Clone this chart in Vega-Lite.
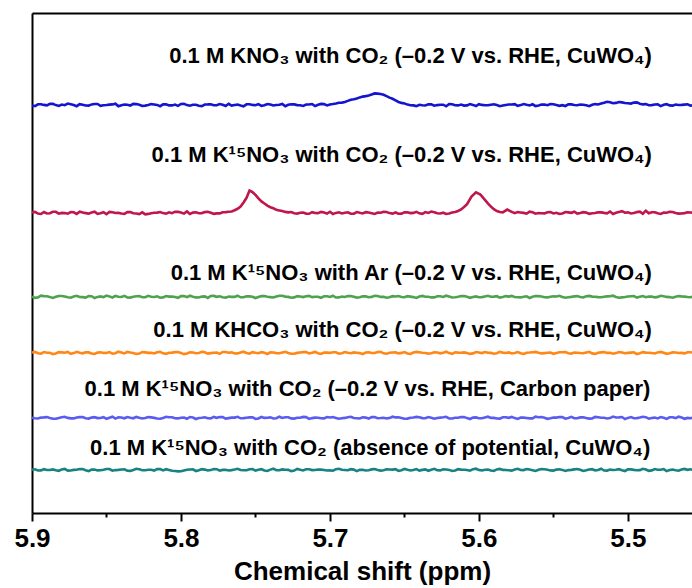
{
  "$schema": "https://vega.github.io/schema/vega-lite/v6.json",
  "width": 660,
  "height": 500,
  "autosize": {"type": "none"},
  "padding": {"left": 32, "top": 13, "right": 0, "bottom": 75},
  "background": "white",
  "config": {"view": {"stroke": null}, "axis": {"grid": false}},
  "datasets": {
    "labels": [
      {"s": "k14", "x": 5.4839, "y": 450, "t": "0.1 M KNO₃ with CO₂ (–0.2 V vs. RHE, CuWO₄)"},
      {"s": "k15", "x": 5.4839, "y": 351, "t": "0.1 M K¹⁵NO₃ with CO₂ (–0.2 V vs. RHE, CuWO₄)"},
      {"s": "ar", "x": 5.4839, "y": 233, "t": "0.1 M K¹⁵NO₃ with Ar (–0.2 V vs. RHE, CuWO₄)"},
      {"s": "khco3", "x": 5.4839, "y": 176, "t": "0.1 M KHCO₃ with CO₂ (–0.2 V vs. RHE, CuWO₄)"},
      {"s": "cp", "x": 5.485, "y": 117, "t": "0.1 M K¹⁵NO₃ with CO₂ (–0.2 V vs. RHE, Carbon paper)"},
      {"s": "ocp", "x": 5.485, "y": 58, "t": "0.1 M K¹⁵NO₃ with CO₂ (absence of potential, CuWO₄)"}
    ],
    "spectra": [
      {"s":"k14","x":5.900,"y":407.6},{"s":"k14","x":5.896,"y":408.7},{"s":"k14","x":5.892,"y":408.1},{"s":"k14","x":5.888,"y":409.2},{"s":"k14","x":5.884,"y":407.9},
      {"s":"k14","x":5.880,"y":408.5},{"s":"k14","x":5.876,"y":409.4},{"s":"k14","x":5.872,"y":408.0},{"s":"k14","x":5.868,"y":408.8},{"s":"k14","x":5.864,"y":407.5},
      {"s":"k14","x":5.860,"y":408.6},{"s":"k14","x":5.856,"y":409.0},{"s":"k14","x":5.852,"y":407.8},{"s":"k14","x":5.848,"y":408.4},{"s":"k14","x":5.844,"y":409.3},
      {"s":"k14","x":5.840,"y":407.7},{"s":"k14","x":5.836,"y":408.2},{"s":"k14","x":5.832,"y":409.1},{"s":"k14","x":5.828,"y":408.3},{"s":"k14","x":5.824,"y":407.4},
      {"s":"k14","x":5.820,"y":408.9},{"s":"k14","x":5.816,"y":408.1},{"s":"k14","x":5.812,"y":408.6},{"s":"k14","x":5.808,"y":407.6},{"s":"k14","x":5.804,"y":408.4},
      {"s":"k14","x":5.800,"y":409.0},{"s":"k14","x":5.796,"y":407.9},{"s":"k14","x":5.792,"y":408.2},{"s":"k14","x":5.788,"y":407.3},{"s":"k14","x":5.784,"y":408.5},
      {"s":"k14","x":5.780,"y":408.8},{"s":"k14","x":5.776,"y":407.8},{"s":"k14","x":5.772,"y":408.3},{"s":"k14","x":5.768,"y":409.2},{"s":"k14","x":5.764,"y":408.0},
      {"s":"k14","x":5.760,"y":407.5},{"s":"k14","x":5.756,"y":408.7},{"s":"k14","x":5.752,"y":408.1},{"s":"k14","x":5.748,"y":408.9},{"s":"k14","x":5.744,"y":407.7},
      {"s":"k14","x":5.740,"y":408.4},{"s":"k14","x":5.736,"y":408.0},{"s":"k14","x":5.732,"y":409.1},{"s":"k14","x":5.728,"y":408.2},{"s":"k14","x":5.724,"y":408.6},
      {"s":"k14","x":5.720,"y":407.8},{"s":"k14","x":5.716,"y":408.5},{"s":"k14","x":5.712,"y":409.0},{"s":"k14","x":5.708,"y":408.3},{"s":"k14","x":5.704,"y":408.9},
      {"s":"k14","x":5.700,"y":408.6},{"s":"k14","x":5.696,"y":409.6},{"s":"k14","x":5.692,"y":410.4},{"s":"k14","x":5.688,"y":412.1},{"s":"k14","x":5.684,"y":413.8},
      {"s":"k14","x":5.680,"y":415.6},{"s":"k14","x":5.676,"y":416.9},{"s":"k14","x":5.672,"y":418.6},{"s":"k14","x":5.668,"y":419.4},{"s":"k14","x":5.664,"y":418.2},
      {"s":"k14","x":5.660,"y":415.4},{"s":"k14","x":5.656,"y":412.6},{"s":"k14","x":5.652,"y":410.1},{"s":"k14","x":5.648,"y":408.4},{"s":"k14","x":5.644,"y":407.6},
      {"s":"k14","x":5.640,"y":408.2},{"s":"k14","x":5.636,"y":407.5},{"s":"k14","x":5.632,"y":408.6},{"s":"k14","x":5.628,"y":407.9},{"s":"k14","x":5.624,"y":408.3},
      {"s":"k14","x":5.620,"y":409.0},{"s":"k14","x":5.616,"y":407.8},{"s":"k14","x":5.612,"y":408.4},{"s":"k14","x":5.608,"y":407.6},{"s":"k14","x":5.604,"y":408.1},
      {"s":"k14","x":5.600,"y":408.8},{"s":"k14","x":5.596,"y":407.7},{"s":"k14","x":5.592,"y":408.3},{"s":"k14","x":5.588,"y":408.0},{"s":"k14","x":5.584,"y":407.4},
      {"s":"k14","x":5.580,"y":408.5},{"s":"k14","x":5.576,"y":408.9},{"s":"k14","x":5.572,"y":407.9},{"s":"k14","x":5.568,"y":408.2},{"s":"k14","x":5.564,"y":408.7},
      {"s":"k14","x":5.560,"y":407.6},{"s":"k14","x":5.556,"y":408.4},{"s":"k14","x":5.552,"y":408.9},{"s":"k14","x":5.548,"y":408.1},{"s":"k14","x":5.544,"y":407.8},
      {"s":"k14","x":5.540,"y":408.6},{"s":"k14","x":5.536,"y":408.0},{"s":"k14","x":5.532,"y":408.4},{"s":"k14","x":5.528,"y":407.7},{"s":"k14","x":5.524,"y":408.2},
      {"s":"k14","x":5.520,"y":408.5},{"s":"k14","x":5.516,"y":410.2},{"s":"k14","x":5.512,"y":410.8},{"s":"k14","x":5.508,"y":410.1},{"s":"k14","x":5.504,"y":410.6},
      {"s":"k14","x":5.500,"y":409.7},{"s":"k14","x":5.496,"y":410.4},{"s":"k14","x":5.492,"y":409.3},{"s":"k14","x":5.488,"y":408.9},{"s":"k14","x":5.484,"y":407.9},
      {"s":"k14","x":5.480,"y":408.6},{"s":"k14","x":5.476,"y":408.2},{"s":"k14","x":5.472,"y":407.6},{"s":"k14","x":5.468,"y":408.5},{"s":"k14","x":5.464,"y":408.1},
      {"s":"k14","x":5.460,"y":408.7},{"s":"k14","x":5.456,"y":408.0},

      {"s":"k14","x":5.898,"y":406.9},{"s":"k14","x":5.894,"y":408.7},{"s":"k14","x":5.890,"y":407.7},{"s":"k14","x":5.886,"y":409.1},{"s":"k14","x":5.882,"y":407.1},
      {"s":"k14","x":5.878,"y":407.8},{"s":"k14","x":5.874,"y":408.8},{"s":"k14","x":5.870,"y":406.8},{"s":"k14","x":5.866,"y":408.3},{"s":"k14","x":5.862,"y":407.4},
      {"s":"k14","x":5.858,"y":409.0},{"s":"k14","x":5.854,"y":407.2},{"s":"k14","x":5.850,"y":408.0},{"s":"k14","x":5.846,"y":408.6},{"s":"k14","x":5.842,"y":406.7},
      {"s":"k14","x":5.838,"y":408.4},{"s":"k14","x":5.834,"y":407.5},{"s":"k14","x":5.830,"y":408.9},{"s":"k14","x":5.826,"y":407.0},{"s":"k14","x":5.822,"y":407.9},
      {"s":"k14","x":5.818,"y":408.5},{"s":"k14","x":5.814,"y":406.8},{"s":"k14","x":5.810,"y":408.8},{"s":"k14","x":5.806,"y":407.6},{"s":"k14","x":5.802,"y":407.1},
      {"s":"k14","x":5.798,"y":409.1},{"s":"k14","x":5.794,"y":407.3},{"s":"k14","x":5.790,"y":408.2},{"s":"k14","x":5.786,"y":406.9},{"s":"k14","x":5.782,"y":408.6},
      {"s":"k14","x":5.778,"y":407.7},{"s":"k14","x":5.774,"y":408.9},{"s":"k14","x":5.770,"y":407.0},{"s":"k14","x":5.766,"y":407.4},{"s":"k14","x":5.762,"y":408.4},
      {"s":"k14","x":5.758,"y":406.7},{"s":"k14","x":5.754,"y":408.7},{"s":"k14","x":5.750,"y":407.8},{"s":"k14","x":5.746,"y":407.2},{"s":"k14","x":5.742,"y":409.0},
      {"s":"k14","x":5.738,"y":407.5},{"s":"k14","x":5.734,"y":408.3},{"s":"k14","x":5.730,"y":406.8},{"s":"k14","x":5.726,"y":408.8},{"s":"k14","x":5.722,"y":407.9},
      {"s":"k14","x":5.718,"y":407.1},{"s":"k14","x":5.714,"y":408.5},{"s":"k14","x":5.710,"y":406.9},{"s":"k14","x":5.706,"y":409.1},{"s":"k14","x":5.702,"y":407.6},
      {"s":"k14","x":5.698,"y":409.0},{"s":"k14","x":5.694,"y":410.3},{"s":"k14","x":5.690,"y":411.0},{"s":"k14","x":5.686,"y":413.2},{"s":"k14","x":5.682,"y":414.5},
      {"s":"k14","x":5.678,"y":416.4},{"s":"k14","x":5.674,"y":417.6},{"s":"k14","x":5.670,"y":419.6},{"s":"k14","x":5.666,"y":419.0},{"s":"k14","x":5.662,"y":416.9},
      {"s":"k14","x":5.658,"y":414.2},{"s":"k14","x":5.654,"y":411.0},{"s":"k14","x":5.650,"y":409.6},{"s":"k14","x":5.646,"y":407.7},{"s":"k14","x":5.642,"y":406.9},
      {"s":"k14","x":5.638,"y":407.8},{"s":"k14","x":5.634,"y":408.6},{"s":"k14","x":5.630,"y":407.3},{"s":"k14","x":5.626,"y":408.3},{"s":"k14","x":5.622,"y":406.7},
      {"s":"k14","x":5.618,"y":408.8},{"s":"k14","x":5.614,"y":407.6},{"s":"k14","x":5.610,"y":407.4},{"s":"k14","x":5.606,"y":408.9},{"s":"k14","x":5.602,"y":407.0},
      {"s":"k14","x":5.598,"y":408.1},{"s":"k14","x":5.594,"y":407.7},{"s":"k14","x":5.590,"y":408.7},{"s":"k14","x":5.586,"y":406.8},{"s":"k14","x":5.582,"y":408.0},
      {"s":"k14","x":5.578,"y":408.5},{"s":"k14","x":5.574,"y":407.1},{"s":"k14","x":5.570,"y":409.0},{"s":"k14","x":5.566,"y":407.5},{"s":"k14","x":5.562,"y":406.9},
      {"s":"k14","x":5.558,"y":408.4},{"s":"k14","x":5.554,"y":407.8},{"s":"k14","x":5.550,"y":408.8},{"s":"k14","x":5.546,"y":407.2},{"s":"k14","x":5.542,"y":407.0},
      {"s":"k14","x":5.538,"y":408.6},{"s":"k14","x":5.534,"y":407.7},{"s":"k14","x":5.530,"y":408.2},{"s":"k14","x":5.526,"y":406.8},{"s":"k14","x":5.522,"y":408.9},
      {"s":"k14","x":5.518,"y":409.4},{"s":"k14","x":5.514,"y":411.2},{"s":"k14","x":5.510,"y":409.8},{"s":"k14","x":5.506,"y":411.0},{"s":"k14","x":5.502,"y":410.0},
      {"s":"k14","x":5.498,"y":409.4},{"s":"k14","x":5.494,"y":410.6},{"s":"k14","x":5.490,"y":408.6},{"s":"k14","x":5.486,"y":407.8},{"s":"k14","x":5.482,"y":408.5},
      {"s":"k14","x":5.478,"y":406.9},{"s":"k14","x":5.474,"y":408.8},{"s":"k14","x":5.470,"y":407.4},{"s":"k14","x":5.466,"y":408.0},{"s":"k14","x":5.462,"y":408.4},
      {"s":"k14","x":5.458,"y":407.3},

      {"s":"k15","x":5.900,"y":300.6},{"s":"k15","x":5.896,"y":299.4},{"s":"k15","x":5.892,"y":300.9},{"s":"k15","x":5.888,"y":299.8},{"s":"k15","x":5.884,"y":301.2},
      {"s":"k15","x":5.880,"y":300.1},{"s":"k15","x":5.876,"y":299.3},{"s":"k15","x":5.872,"y":300.7},{"s":"k15","x":5.868,"y":301.4},{"s":"k15","x":5.864,"y":299.9},
      {"s":"k15","x":5.860,"y":300.5},{"s":"k15","x":5.856,"y":299.2},{"s":"k15","x":5.852,"y":300.8},{"s":"k15","x":5.848,"y":301.1},{"s":"k15","x":5.844,"y":300.0},
      {"s":"k15","x":5.840,"y":299.5},{"s":"k15","x":5.836,"y":300.9},{"s":"k15","x":5.832,"y":299.7},{"s":"k15","x":5.828,"y":298.9},{"s":"k15","x":5.824,"y":298.6},
      {"s":"k15","x":5.820,"y":299.8},{"s":"k15","x":5.816,"y":300.4},{"s":"k15","x":5.812,"y":299.9},{"s":"k15","x":5.808,"y":300.7},{"s":"k15","x":5.804,"y":301.3},
      {"s":"k15","x":5.800,"y":300.5},{"s":"k15","x":5.796,"y":301.6},{"s":"k15","x":5.792,"y":300.4},{"s":"k15","x":5.788,"y":299.8},{"s":"k15","x":5.784,"y":300.9},
      {"s":"k15","x":5.780,"y":300.2},{"s":"k15","x":5.776,"y":299.6},{"s":"k15","x":5.772,"y":300.8},{"s":"k15","x":5.768,"y":301.2},{"s":"k15","x":5.764,"y":302.8},
      {"s":"k15","x":5.760,"y":306.4},{"s":"k15","x":5.756,"y":315.2},{"s":"k15","x":5.754,"y":322.4},{"s":"k15","x":5.752,"y":320.8},{"s":"k15","x":5.748,"y":314.6},
      {"s":"k15","x":5.744,"y":309.5},{"s":"k15","x":5.740,"y":305.8},{"s":"k15","x":5.736,"y":303.2},{"s":"k15","x":5.732,"y":301.9},{"s":"k15","x":5.728,"y":300.6},
      {"s":"k15","x":5.724,"y":299.7},{"s":"k15","x":5.720,"y":300.3},{"s":"k15","x":5.716,"y":299.4},{"s":"k15","x":5.712,"y":300.8},{"s":"k15","x":5.708,"y":299.9},
      {"s":"k15","x":5.704,"y":300.5},{"s":"k15","x":5.700,"y":301.3},{"s":"k15","x":5.696,"y":300.1},{"s":"k15","x":5.692,"y":299.6},{"s":"k15","x":5.688,"y":300.7},
      {"s":"k15","x":5.684,"y":299.3},{"s":"k15","x":5.680,"y":300.2},{"s":"k15","x":5.676,"y":300.9},{"s":"k15","x":5.672,"y":299.8},{"s":"k15","x":5.668,"y":300.4},
      {"s":"k15","x":5.664,"y":301.2},{"s":"k15","x":5.660,"y":299.9},{"s":"k15","x":5.656,"y":300.5},{"s":"k15","x":5.652,"y":299.4},{"s":"k15","x":5.648,"y":300.8},
      {"s":"k15","x":5.644,"y":300.1},{"s":"k15","x":5.640,"y":299.7},{"s":"k15","x":5.636,"y":300.9},{"s":"k15","x":5.632,"y":301.4},{"s":"k15","x":5.628,"y":299.8},
      {"s":"k15","x":5.624,"y":300.3},{"s":"k15","x":5.620,"y":299.5},{"s":"k15","x":5.616,"y":301.0},{"s":"k15","x":5.612,"y":303.6},{"s":"k15","x":5.608,"y":308.8},
      {"s":"k15","x":5.605,"y":316.4},{"s":"k15","x":5.602,"y":320.6},{"s":"k15","x":5.599,"y":318.4},{"s":"k15","x":5.596,"y":313.2},{"s":"k15","x":5.592,"y":306.4},
      {"s":"k15","x":5.588,"y":302.0},{"s":"k15","x":5.584,"y":300.6},{"s":"k15","x":5.581,"y":303.4},{"s":"k15","x":5.578,"y":301.2},{"s":"k15","x":5.576,"y":299.8},
      {"s":"k15","x":5.572,"y":300.5},{"s":"k15","x":5.568,"y":299.3},{"s":"k15","x":5.564,"y":300.7},{"s":"k15","x":5.560,"y":300.0},{"s":"k15","x":5.556,"y":299.6},
      {"s":"k15","x":5.552,"y":300.9},{"s":"k15","x":5.548,"y":300.2},{"s":"k15","x":5.544,"y":299.5},{"s":"k15","x":5.540,"y":300.6},{"s":"k15","x":5.536,"y":301.3},
      {"s":"k15","x":5.532,"y":299.9},{"s":"k15","x":5.528,"y":300.4},{"s":"k15","x":5.524,"y":299.7},{"s":"k15","x":5.520,"y":300.8},{"s":"k15","x":5.516,"y":300.1},
      {"s":"k15","x":5.512,"y":301.5},{"s":"k15","x":5.508,"y":300.3},{"s":"k15","x":5.504,"y":301.8},{"s":"k15","x":5.500,"y":300.6},{"s":"k15","x":5.496,"y":299.9},
      {"s":"k15","x":5.492,"y":301.4},{"s":"k15","x":5.488,"y":302.3},{"s":"k15","x":5.484,"y":300.8},{"s":"k15","x":5.480,"y":299.7},{"s":"k15","x":5.476,"y":300.5},
      {"s":"k15","x":5.472,"y":301.2},{"s":"k15","x":5.468,"y":300.0},{"s":"k15","x":5.464,"y":299.6},{"s":"k15","x":5.460,"y":300.7},{"s":"k15","x":5.456,"y":300.2},

      {"s":"k15","x":5.898,"y":301.1},{"s":"k15","x":5.894,"y":299.0},{"s":"k15","x":5.890,"y":299.5},{"s":"k15","x":5.886,"y":301.2},{"s":"k15","x":5.882,"y":299.3},
      {"s":"k15","x":5.878,"y":299.9},{"s":"k15","x":5.874,"y":301.0},{"s":"k15","x":5.870,"y":299.1},{"s":"k15","x":5.866,"y":300.4},{"s":"k15","x":5.862,"y":299.4},
      {"s":"k15","x":5.858,"y":301.3},{"s":"k15","x":5.854,"y":299.7},{"s":"k15","x":5.850,"y":298.9},{"s":"k15","x":5.846,"y":300.8},{"s":"k15","x":5.842,"y":300.1},
      {"s":"k15","x":5.838,"y":299.2},{"s":"k15","x":5.834,"y":300.9},{"s":"k15","x":5.830,"y":299.5},{"s":"k15","x":5.826,"y":300.6},{"s":"k15","x":5.822,"y":299.1},
      {"s":"k15","x":5.818,"y":300.3},{"s":"k15","x":5.814,"y":301.0},{"s":"k15","x":5.810,"y":299.3},{"s":"k15","x":5.806,"y":299.8},{"s":"k15","x":5.802,"y":301.1},
      {"s":"k15","x":5.798,"y":299.4},{"s":"k15","x":5.794,"y":299.0},{"s":"k15","x":5.790,"y":300.7},{"s":"k15","x":5.786,"y":299.9},{"s":"k15","x":5.782,"y":301.2},
      {"s":"k15","x":5.778,"y":299.2},{"s":"k15","x":5.774,"y":299.6},{"s":"k15","x":5.770,"y":300.9},{"s":"k15","x":5.766,"y":301.5},{"s":"k15","x":5.762,"y":304.2},
      {"s":"k15","x":5.758,"y":310.5},{"s":"k15","x":5.750,"y":318.2},{"s":"k15","x":5.746,"y":311.6},{"s":"k15","x":5.742,"y":307.4},{"s":"k15","x":5.738,"y":304.7},
      {"s":"k15","x":5.734,"y":302.6},{"s":"k15","x":5.730,"y":301.1},{"s":"k15","x":5.726,"y":301.0},{"s":"k15","x":5.722,"y":299.4},{"s":"k15","x":5.718,"y":300.4},
      {"s":"k15","x":5.714,"y":299.2},{"s":"k15","x":5.710,"y":300.0},{"s":"k15","x":5.706,"y":301.1},{"s":"k15","x":5.702,"y":299.5},{"s":"k15","x":5.698,"y":299.0},
      {"s":"k15","x":5.694,"y":300.7},{"s":"k15","x":5.690,"y":300.3},{"s":"k15","x":5.686,"y":299.3},{"s":"k15","x":5.682,"y":300.9},{"s":"k15","x":5.678,"y":299.6},
      {"s":"k15","x":5.674,"y":300.5},{"s":"k15","x":5.670,"y":299.1},{"s":"k15","x":5.666,"y":300.2},{"s":"k15","x":5.662,"y":301.0},{"s":"k15","x":5.658,"y":299.4},
      {"s":"k15","x":5.654,"y":299.3},{"s":"k15","x":5.650,"y":300.6},{"s":"k15","x":5.646,"y":299.9},{"s":"k15","x":5.642,"y":301.2},{"s":"k15","x":5.638,"y":299.2},
      {"s":"k15","x":5.634,"y":300.1},{"s":"k15","x":5.630,"y":300.7},{"s":"k15","x":5.626,"y":299.5},{"s":"k15","x":5.622,"y":299.0},{"s":"k15","x":5.618,"y":300.4},
      {"s":"k15","x":5.614,"y":302.0},{"s":"k15","x":5.610,"y":306.0},{"s":"k15","x":5.594,"y":309.6},{"s":"k15","x":5.590,"y":303.8},{"s":"k15","x":5.586,"y":301.0},
      {"s":"k15","x":5.574,"y":300.9},{"s":"k15","x":5.570,"y":300.1},{"s":"k15","x":5.566,"y":301.3},{"s":"k15","x":5.562,"y":299.3},{"s":"k15","x":5.558,"y":299.8},
      {"s":"k15","x":5.554,"y":300.7},{"s":"k15","x":5.550,"y":299.5},{"s":"k15","x":5.546,"y":299.1},{"s":"k15","x":5.542,"y":301.0},{"s":"k15","x":5.538,"y":300.2},
      {"s":"k15","x":5.534,"y":299.4},{"s":"k15","x":5.530,"y":300.8},{"s":"k15","x":5.526,"y":299.2},{"s":"k15","x":5.522,"y":300.0},{"s":"k15","x":5.518,"y":300.6},
      {"s":"k15","x":5.514,"y":299.7},{"s":"k15","x":5.510,"y":299.0},{"s":"k15","x":5.506,"y":301.1},{"s":"k15","x":5.502,"y":300.3},{"s":"k15","x":5.498,"y":299.5},
      {"s":"k15","x":5.494,"y":300.9},{"s":"k15","x":5.490,"y":299.3},{"s":"k15","x":5.486,"y":299.8},{"s":"k15","x":5.482,"y":300.7},{"s":"k15","x":5.478,"y":299.1},
      {"s":"k15","x":5.474,"y":300.2},{"s":"k15","x":5.470,"y":301.0},{"s":"k15","x":5.466,"y":299.4},{"s":"k15","x":5.462,"y":299.9},{"s":"k15","x":5.458,"y":300.5},

      {"s":"ar","x":5.900,"y":216.4},{"s":"ar","x":5.896,"y":215.6},{"s":"ar","x":5.892,"y":216.9},{"s":"ar","x":5.888,"y":215.9},{"s":"ar","x":5.884,"y":216.2},
      {"s":"ar","x":5.880,"y":217.0},{"s":"ar","x":5.876,"y":215.7},{"s":"ar","x":5.872,"y":216.5},{"s":"ar","x":5.868,"y":216.0},{"s":"ar","x":5.864,"y":215.4},
      {"s":"ar","x":5.860,"y":216.8},{"s":"ar","x":5.856,"y":216.1},{"s":"ar","x":5.852,"y":215.8},{"s":"ar","x":5.848,"y":216.6},{"s":"ar","x":5.844,"y":217.1},
      {"s":"ar","x":5.840,"y":216.0},{"s":"ar","x":5.836,"y":215.5},{"s":"ar","x":5.832,"y":216.3},{"s":"ar","x":5.828,"y":216.9},{"s":"ar","x":5.824,"y":215.8},
      {"s":"ar","x":5.820,"y":216.2},{"s":"ar","x":5.816,"y":216.7},{"s":"ar","x":5.812,"y":215.6},{"s":"ar","x":5.808,"y":216.4},{"s":"ar","x":5.804,"y":216.0},
      {"s":"ar","x":5.800,"y":216.9},{"s":"ar","x":5.796,"y":215.9},{"s":"ar","x":5.792,"y":216.3},{"s":"ar","x":5.788,"y":215.5},{"s":"ar","x":5.784,"y":216.6},
      {"s":"ar","x":5.780,"y":217.0},{"s":"ar","x":5.776,"y":216.2},{"s":"ar","x":5.772,"y":215.8},{"s":"ar","x":5.768,"y":216.5},{"s":"ar","x":5.764,"y":216.1},
      {"s":"ar","x":5.760,"y":215.7},{"s":"ar","x":5.756,"y":216.8},{"s":"ar","x":5.752,"y":216.3},{"s":"ar","x":5.748,"y":216.0},{"s":"ar","x":5.744,"y":216.9},
      {"s":"ar","x":5.740,"y":215.9},{"s":"ar","x":5.736,"y":216.4},{"s":"ar","x":5.732,"y":217.2},{"s":"ar","x":5.728,"y":216.1},{"s":"ar","x":5.724,"y":215.6},
      {"s":"ar","x":5.720,"y":216.5},{"s":"ar","x":5.716,"y":216.8},{"s":"ar","x":5.712,"y":215.9},{"s":"ar","x":5.708,"y":216.3},{"s":"ar","x":5.704,"y":216.7},
      {"s":"ar","x":5.700,"y":216.0},{"s":"ar","x":5.696,"y":215.5},{"s":"ar","x":5.692,"y":216.4},{"s":"ar","x":5.688,"y":216.9},{"s":"ar","x":5.684,"y":216.2},
      {"s":"ar","x":5.680,"y":215.8},{"s":"ar","x":5.676,"y":216.6},{"s":"ar","x":5.672,"y":216.1},{"s":"ar","x":5.668,"y":217.0},{"s":"ar","x":5.664,"y":216.3},
      {"s":"ar","x":5.660,"y":215.7},{"s":"ar","x":5.656,"y":216.5},{"s":"ar","x":5.652,"y":216.0},{"s":"ar","x":5.648,"y":216.8},{"s":"ar","x":5.644,"y":215.9},
      {"s":"ar","x":5.640,"y":216.4},{"s":"ar","x":5.636,"y":216.2},{"s":"ar","x":5.632,"y":215.6},{"s":"ar","x":5.628,"y":216.7},{"s":"ar","x":5.624,"y":216.1},
      {"s":"ar","x":5.620,"y":216.5},{"s":"ar","x":5.616,"y":215.8},{"s":"ar","x":5.612,"y":216.9},{"s":"ar","x":5.608,"y":216.3},{"s":"ar","x":5.604,"y":216.0},
      {"s":"ar","x":5.600,"y":215.7},{"s":"ar","x":5.596,"y":216.6},{"s":"ar","x":5.592,"y":216.2},{"s":"ar","x":5.588,"y":216.8},{"s":"ar","x":5.584,"y":215.9},
      {"s":"ar","x":5.580,"y":216.4},{"s":"ar","x":5.576,"y":216.0},{"s":"ar","x":5.572,"y":215.6},{"s":"ar","x":5.568,"y":216.7},{"s":"ar","x":5.564,"y":216.3},
      {"s":"ar","x":5.560,"y":216.9},{"s":"ar","x":5.556,"y":215.8},{"s":"ar","x":5.552,"y":216.2},{"s":"ar","x":5.548,"y":216.5},{"s":"ar","x":5.544,"y":216.0},
      {"s":"ar","x":5.540,"y":215.7},{"s":"ar","x":5.536,"y":216.6},{"s":"ar","x":5.532,"y":216.1},{"s":"ar","x":5.528,"y":216.8},{"s":"ar","x":5.524,"y":216.4},
      {"s":"ar","x":5.520,"y":215.9},{"s":"ar","x":5.516,"y":216.3},{"s":"ar","x":5.512,"y":216.7},{"s":"ar","x":5.508,"y":216.0},{"s":"ar","x":5.504,"y":215.6},
      {"s":"ar","x":5.500,"y":216.5},{"s":"ar","x":5.496,"y":216.9},{"s":"ar","x":5.492,"y":216.2},{"s":"ar","x":5.488,"y":215.8},{"s":"ar","x":5.484,"y":216.4},
      {"s":"ar","x":5.480,"y":216.1},{"s":"ar","x":5.476,"y":216.7},{"s":"ar","x":5.472,"y":215.9},{"s":"ar","x":5.468,"y":216.3},{"s":"ar","x":5.464,"y":216.6},
      {"s":"ar","x":5.460,"y":216.0},{"s":"ar","x":5.456,"y":216.4},

      {"s":"ar","x":5.898,"y":215.2},{"s":"ar","x":5.894,"y":217.3},{"s":"ar","x":5.890,"y":216.8},{"s":"ar","x":5.886,"y":215.1},{"s":"ar","x":5.882,"y":217.0},
      {"s":"ar","x":5.878,"y":216.4},{"s":"ar","x":5.874,"y":215.3},{"s":"ar","x":5.870,"y":217.2},{"s":"ar","x":5.866,"y":215.9},{"s":"ar","x":5.862,"y":216.9},
      {"s":"ar","x":5.858,"y":215.0},{"s":"ar","x":5.854,"y":216.6},{"s":"ar","x":5.850,"y":217.4},{"s":"ar","x":5.846,"y":215.5},{"s":"ar","x":5.842,"y":216.2},
      {"s":"ar","x":5.838,"y":217.1},{"s":"ar","x":5.834,"y":215.4},{"s":"ar","x":5.830,"y":216.8},{"s":"ar","x":5.826,"y":215.7},{"s":"ar","x":5.822,"y":217.2},
      {"s":"ar","x":5.818,"y":216.0},{"s":"ar","x":5.814,"y":215.3},{"s":"ar","x":5.810,"y":217.0},{"s":"ar","x":5.806,"y":216.5},{"s":"ar","x":5.802,"y":215.2},
      {"s":"ar","x":5.798,"y":216.9},{"s":"ar","x":5.794,"y":217.3},{"s":"ar","x":5.790,"y":215.6},{"s":"ar","x":5.786,"y":216.4},{"s":"ar","x":5.782,"y":215.1},
      {"s":"ar","x":5.778,"y":217.1},{"s":"ar","x":5.774,"y":216.7},{"s":"ar","x":5.770,"y":215.4},{"s":"ar","x":5.766,"y":216.1},{"s":"ar","x":5.762,"y":217.3},
      {"s":"ar","x":5.758,"y":215.8},{"s":"ar","x":5.754,"y":216.6},{"s":"ar","x":5.750,"y":215.0},{"s":"ar","x":5.746,"y":217.0},{"s":"ar","x":5.742,"y":216.2},
      {"s":"ar","x":5.738,"y":215.5},{"s":"ar","x":5.734,"y":217.2},{"s":"ar","x":5.730,"y":216.4},{"s":"ar","x":5.726,"y":215.3},{"s":"ar","x":5.722,"y":216.9},
      {"s":"ar","x":5.718,"y":215.9},{"s":"ar","x":5.714,"y":217.1},{"s":"ar","x":5.710,"y":216.3},{"s":"ar","x":5.706,"y":215.2},{"s":"ar","x":5.702,"y":216.8},
      {"s":"ar","x":5.698,"y":217.3},{"s":"ar","x":5.694,"y":215.6},{"s":"ar","x":5.690,"y":216.0},{"s":"ar","x":5.686,"y":217.0},{"s":"ar","x":5.682,"y":215.4},
      {"s":"ar","x":5.678,"y":216.7},{"s":"ar","x":5.674,"y":215.8},{"s":"ar","x":5.670,"y":217.2},{"s":"ar","x":5.666,"y":216.1},{"s":"ar","x":5.662,"y":215.3},
      {"s":"ar","x":5.658,"y":216.9},{"s":"ar","x":5.654,"y":217.0},{"s":"ar","x":5.650,"y":215.7},{"s":"ar","x":5.646,"y":216.4},{"s":"ar","x":5.642,"y":215.1},
      {"s":"ar","x":5.638,"y":217.1},{"s":"ar","x":5.634,"y":216.2},{"s":"ar","x":5.630,"y":215.6},{"s":"ar","x":5.626,"y":216.8},{"s":"ar","x":5.622,"y":217.3},
      {"s":"ar","x":5.618,"y":215.5},{"s":"ar","x":5.614,"y":216.3},{"s":"ar","x":5.610,"y":217.0},{"s":"ar","x":5.606,"y":215.2},{"s":"ar","x":5.602,"y":216.6},
      {"s":"ar","x":5.598,"y":215.9},{"s":"ar","x":5.594,"y":217.2},{"s":"ar","x":5.590,"y":216.4},{"s":"ar","x":5.586,"y":215.4},{"s":"ar","x":5.582,"y":216.9},
      {"s":"ar","x":5.578,"y":217.1},{"s":"ar","x":5.574,"y":215.8},{"s":"ar","x":5.570,"y":216.2},{"s":"ar","x":5.566,"y":215.0},{"s":"ar","x":5.562,"y":217.0},
      {"s":"ar","x":5.558,"y":216.5},{"s":"ar","x":5.554,"y":215.6},{"s":"ar","x":5.550,"y":216.8},{"s":"ar","x":5.546,"y":217.2},{"s":"ar","x":5.542,"y":215.3},
      {"s":"ar","x":5.538,"y":216.1},{"s":"ar","x":5.534,"y":216.9},{"s":"ar","x":5.530,"y":215.5},{"s":"ar","x":5.526,"y":217.1},{"s":"ar","x":5.522,"y":216.3},
      {"s":"ar","x":5.518,"y":215.7},{"s":"ar","x":5.514,"y":216.6},{"s":"ar","x":5.510,"y":217.3},{"s":"ar","x":5.506,"y":215.2},{"s":"ar","x":5.502,"y":216.0},
      {"s":"ar","x":5.498,"y":216.8},{"s":"ar","x":5.494,"y":215.4},{"s":"ar","x":5.490,"y":217.0},{"s":"ar","x":5.486,"y":216.5},{"s":"ar","x":5.482,"y":215.6},
      {"s":"ar","x":5.478,"y":217.2},{"s":"ar","x":5.474,"y":216.1},{"s":"ar","x":5.470,"y":215.3},{"s":"ar","x":5.466,"y":216.9},{"s":"ar","x":5.462,"y":216.4},
      {"s":"ar","x":5.458,"y":215.8},

      {"s":"khco3","x":5.900,"y":160.5},{"s":"khco3","x":5.896,"y":159.7},{"s":"khco3","x":5.892,"y":160.9},{"s":"khco3","x":5.888,"y":160.2},{"s":"khco3","x":5.884,"y":159.5},
      {"s":"khco3","x":5.880,"y":160.6},{"s":"khco3","x":5.876,"y":161.0},{"s":"khco3","x":5.872,"y":159.9},{"s":"khco3","x":5.868,"y":160.3},{"s":"khco3","x":5.864,"y":160.8},
      {"s":"khco3","x":5.860,"y":159.6},{"s":"khco3","x":5.856,"y":160.4},{"s":"khco3","x":5.852,"y":160.1},{"s":"khco3","x":5.848,"y":160.9},{"s":"khco3","x":5.844,"y":159.8},
      {"s":"khco3","x":5.840,"y":160.5},{"s":"khco3","x":5.836,"y":161.1},{"s":"khco3","x":5.832,"y":160.0},{"s":"khco3","x":5.828,"y":159.4},{"s":"khco3","x":5.824,"y":160.6},
      {"s":"khco3","x":5.820,"y":160.2},{"s":"khco3","x":5.816,"y":160.8},{"s":"khco3","x":5.812,"y":159.7},{"s":"khco3","x":5.808,"y":160.3},{"s":"khco3","x":5.804,"y":160.9},
      {"s":"khco3","x":5.800,"y":160.1},{"s":"khco3","x":5.796,"y":159.6},{"s":"khco3","x":5.792,"y":160.5},{"s":"khco3","x":5.788,"y":160.0},{"s":"khco3","x":5.784,"y":160.7},
      {"s":"khco3","x":5.780,"y":159.9},{"s":"khco3","x":5.776,"y":160.4},{"s":"khco3","x":5.772,"y":161.0},{"s":"khco3","x":5.768,"y":160.2},{"s":"khco3","x":5.764,"y":159.5},
      {"s":"khco3","x":5.760,"y":160.6},{"s":"khco3","x":5.756,"y":160.1},{"s":"khco3","x":5.752,"y":160.8},{"s":"khco3","x":5.748,"y":159.8},{"s":"khco3","x":5.744,"y":160.3},
      {"s":"khco3","x":5.740,"y":160.7},{"s":"khco3","x":5.736,"y":159.9},{"s":"khco3","x":5.732,"y":160.4},{"s":"khco3","x":5.728,"y":160.0},{"s":"khco3","x":5.724,"y":159.3},
      {"s":"khco3","x":5.720,"y":160.5},{"s":"khco3","x":5.716,"y":160.9},{"s":"khco3","x":5.712,"y":160.2},{"s":"khco3","x":5.708,"y":159.7},{"s":"khco3","x":5.704,"y":160.4},
      {"s":"khco3","x":5.700,"y":160.1},{"s":"khco3","x":5.696,"y":160.8},{"s":"khco3","x":5.692,"y":159.8},{"s":"khco3","x":5.688,"y":160.3},{"s":"khco3","x":5.684,"y":160.6},
      {"s":"khco3","x":5.680,"y":159.9},{"s":"khco3","x":5.676,"y":160.5},{"s":"khco3","x":5.672,"y":160.0},{"s":"khco3","x":5.668,"y":160.9},{"s":"khco3","x":5.664,"y":159.7},
      {"s":"khco3","x":5.660,"y":160.2},{"s":"khco3","x":5.656,"y":160.6},{"s":"khco3","x":5.652,"y":160.1},{"s":"khco3","x":5.648,"y":159.5},{"s":"khco3","x":5.644,"y":160.4},
      {"s":"khco3","x":5.640,"y":160.8},{"s":"khco3","x":5.636,"y":160.0},{"s":"khco3","x":5.632,"y":159.8},{"s":"khco3","x":5.628,"y":160.5},{"s":"khco3","x":5.624,"y":160.3},
      {"s":"khco3","x":5.620,"y":159.9},{"s":"khco3","x":5.616,"y":160.7},{"s":"khco3","x":5.612,"y":160.2},{"s":"khco3","x":5.608,"y":160.0},{"s":"khco3","x":5.604,"y":159.6},
      {"s":"khco3","x":5.600,"y":160.5},{"s":"khco3","x":5.596,"y":160.9},{"s":"khco3","x":5.592,"y":160.1},{"s":"khco3","x":5.588,"y":159.8},{"s":"khco3","x":5.584,"y":160.4},
      {"s":"khco3","x":5.580,"y":160.6},{"s":"khco3","x":5.576,"y":160.0},{"s":"khco3","x":5.572,"y":159.7},{"s":"khco3","x":5.568,"y":160.3},{"s":"khco3","x":5.564,"y":160.8},
      {"s":"khco3","x":5.560,"y":160.2},{"s":"khco3","x":5.556,"y":159.9},{"s":"khco3","x":5.552,"y":160.5},{"s":"khco3","x":5.548,"y":160.1},{"s":"khco3","x":5.544,"y":160.7},
      {"s":"khco3","x":5.540,"y":159.8},{"s":"khco3","x":5.536,"y":160.4},{"s":"khco3","x":5.532,"y":160.0},{"s":"khco3","x":5.528,"y":160.6},{"s":"khco3","x":5.524,"y":159.6},
      {"s":"khco3","x":5.520,"y":160.3},{"s":"khco3","x":5.516,"y":160.9},{"s":"khco3","x":5.512,"y":160.2},{"s":"khco3","x":5.508,"y":159.9},{"s":"khco3","x":5.504,"y":160.5},
      {"s":"khco3","x":5.500,"y":160.1},{"s":"khco3","x":5.496,"y":160.7},{"s":"khco3","x":5.492,"y":159.8},{"s":"khco3","x":5.488,"y":160.4},{"s":"khco3","x":5.484,"y":160.0},
      {"s":"khco3","x":5.480,"y":160.6},{"s":"khco3","x":5.476,"y":160.2},{"s":"khco3","x":5.472,"y":159.7},{"s":"khco3","x":5.468,"y":160.5},{"s":"khco3","x":5.464,"y":160.1},
      {"s":"khco3","x":5.460,"y":160.8},{"s":"khco3","x":5.456,"y":160.3},

      {"s":"khco3","x":5.898,"y":161.1},{"s":"khco3","x":5.894,"y":159.3},{"s":"khco3","x":5.890,"y":160.3},{"s":"khco3","x":5.886,"y":158.9},{"s":"khco3","x":5.882,"y":160.9},
      {"s":"khco3","x":5.878,"y":160.2},{"s":"khco3","x":5.874,"y":159.2},{"s":"khco3","x":5.870,"y":161.2},{"s":"khco3","x":5.866,"y":159.7},{"s":"khco3","x":5.862,"y":160.6},
      {"s":"khco3","x":5.858,"y":159.0},{"s":"khco3","x":5.854,"y":160.8},{"s":"khco3","x":5.850,"y":160.0},{"s":"khco3","x":5.846,"y":159.4},{"s":"khco3","x":5.842,"y":161.3},
      {"s":"khco3","x":5.838,"y":159.6},{"s":"khco3","x":5.834,"y":160.5},{"s":"khco3","x":5.830,"y":159.1},{"s":"khco3","x":5.826,"y":161.0},{"s":"khco3","x":5.822,"y":160.1},
      {"s":"khco3","x":5.818,"y":159.5},{"s":"khco3","x":5.814,"y":161.2},{"s":"khco3","x":5.810,"y":159.2},{"s":"khco3","x":5.806,"y":160.4},{"s":"khco3","x":5.802,"y":160.9},
      {"s":"khco3","x":5.798,"y":158.9},{"s":"khco3","x":5.794,"y":160.7},{"s":"khco3","x":5.790,"y":159.8},{"s":"khco3","x":5.786,"y":161.1},{"s":"khco3","x":5.782,"y":159.4},
      {"s":"khco3","x":5.778,"y":160.3},{"s":"khco3","x":5.774,"y":159.1},{"s":"khco3","x":5.770,"y":161.0},{"s":"khco3","x":5.766,"y":160.6},{"s":"khco3","x":5.762,"y":159.6},
      {"s":"khco3","x":5.758,"y":161.3},{"s":"khco3","x":5.754,"y":159.3},{"s":"khco3","x":5.750,"y":160.2},{"s":"khco3","x":5.746,"y":160.8},{"s":"khco3","x":5.742,"y":159.0},
      {"s":"khco3","x":5.738,"y":160.5},{"s":"khco3","x":5.734,"y":159.7},{"s":"khco3","x":5.730,"y":161.2},{"s":"khco3","x":5.726,"y":159.2},{"s":"khco3","x":5.722,"y":160.1},
      {"s":"khco3","x":5.718,"y":160.9},{"s":"khco3","x":5.714,"y":159.5},{"s":"khco3","x":5.710,"y":161.1},{"s":"khco3","x":5.706,"y":159.1},{"s":"khco3","x":5.702,"y":160.4},
      {"s":"khco3","x":5.698,"y":160.7},{"s":"khco3","x":5.694,"y":159.4},{"s":"khco3","x":5.690,"y":161.0},{"s":"khco3","x":5.686,"y":159.8},{"s":"khco3","x":5.682,"y":160.3},
      {"s":"khco3","x":5.678,"y":158.9},{"s":"khco3","x":5.674,"y":160.8},{"s":"khco3","x":5.670,"y":160.0},{"s":"khco3","x":5.666,"y":161.2},{"s":"khco3","x":5.662,"y":159.3},
      {"s":"khco3","x":5.658,"y":160.5},{"s":"khco3","x":5.654,"y":159.6},{"s":"khco3","x":5.650,"y":160.9},{"s":"khco3","x":5.646,"y":159.0},{"s":"khco3","x":5.642,"y":161.1},
      {"s":"khco3","x":5.638,"y":160.2},{"s":"khco3","x":5.634,"y":159.4},{"s":"khco3","x":5.630,"y":160.7},{"s":"khco3","x":5.626,"y":159.7},{"s":"khco3","x":5.622,"y":161.3},
      {"s":"khco3","x":5.618,"y":159.2},{"s":"khco3","x":5.614,"y":160.4},{"s":"khco3","x":5.610,"y":160.6},{"s":"khco3","x":5.606,"y":159.1},{"s":"khco3","x":5.602,"y":161.0},
      {"s":"khco3","x":5.598,"y":159.9},{"s":"khco3","x":5.594,"y":160.3},{"s":"khco3","x":5.590,"y":159.3},{"s":"khco3","x":5.586,"y":161.2},{"s":"khco3","x":5.582,"y":160.0},
      {"s":"khco3","x":5.578,"y":159.5},{"s":"khco3","x":5.574,"y":160.9},{"s":"khco3","x":5.570,"y":159.0},{"s":"khco3","x":5.566,"y":160.5},{"s":"khco3","x":5.562,"y":161.1},
      {"s":"khco3","x":5.558,"y":159.6},{"s":"khco3","x":5.554,"y":160.2},{"s":"khco3","x":5.550,"y":159.2},{"s":"khco3","x":5.546,"y":160.8},{"s":"khco3","x":5.542,"y":161.0},
      {"s":"khco3","x":5.538,"y":159.4},{"s":"khco3","x":5.534,"y":160.3},{"s":"khco3","x":5.530,"y":159.8},{"s":"khco3","x":5.526,"y":161.2},{"s":"khco3","x":5.522,"y":159.1},
      {"s":"khco3","x":5.518,"y":160.6},{"s":"khco3","x":5.514,"y":160.1},{"s":"khco3","x":5.510,"y":159.3},{"s":"khco3","x":5.506,"y":161.0},{"s":"khco3","x":5.502,"y":159.7},
      {"s":"khco3","x":5.498,"y":160.4},{"s":"khco3","x":5.494,"y":158.9},{"s":"khco3","x":5.490,"y":160.9},{"s":"khco3","x":5.486,"y":160.2},{"s":"khco3","x":5.482,"y":159.5},
      {"s":"khco3","x":5.478,"y":161.1},{"s":"khco3","x":5.474,"y":159.2},{"s":"khco3","x":5.470,"y":160.6},{"s":"khco3","x":5.466,"y":160.0},{"s":"khco3","x":5.462,"y":159.6},
      {"s":"khco3","x":5.458,"y":160.7},

      {"s":"cp","x":5.900,"y":95.2},{"s":"cp","x":5.896,"y":94.5},{"s":"cp","x":5.892,"y":95.6},{"s":"cp","x":5.888,"y":95.0},{"s":"cp","x":5.884,"y":94.3},
      {"s":"cp","x":5.880,"y":95.7},{"s":"cp","x":5.876,"y":95.1},{"s":"cp","x":5.872,"y":94.6},{"s":"cp","x":5.868,"y":95.9},{"s":"cp","x":5.864,"y":94.8},
      {"s":"cp","x":5.860,"y":95.4},{"s":"cp","x":5.856,"y":94.9},{"s":"cp","x":5.852,"y":95.8},{"s":"cp","x":5.848,"y":95.3},{"s":"cp","x":5.844,"y":94.4},
      {"s":"cp","x":5.840,"y":95.5},{"s":"cp","x":5.836,"y":96.0},{"s":"cp","x":5.832,"y":94.7},{"s":"cp","x":5.828,"y":95.2},{"s":"cp","x":5.824,"y":94.9},
      {"s":"cp","x":5.820,"y":95.6},{"s":"cp","x":5.816,"y":94.5},{"s":"cp","x":5.812,"y":95.1},{"s":"cp","x":5.808,"y":95.8},{"s":"cp","x":5.804,"y":94.8},
      {"s":"cp","x":5.800,"y":95.3},{"s":"cp","x":5.796,"y":94.2},{"s":"cp","x":5.792,"y":95.5},{"s":"cp","x":5.788,"y":95.0},{"s":"cp","x":5.784,"y":95.7},
      {"s":"cp","x":5.780,"y":94.6},{"s":"cp","x":5.776,"y":95.2},{"s":"cp","x":5.772,"y":95.9},{"s":"cp","x":5.768,"y":94.9},{"s":"cp","x":5.764,"y":95.4},
      {"s":"cp","x":5.760,"y":94.7},{"s":"cp","x":5.756,"y":95.3},{"s":"cp","x":5.752,"y":95.8},{"s":"cp","x":5.748,"y":94.5},{"s":"cp","x":5.744,"y":95.1},
      {"s":"cp","x":5.740,"y":95.6},{"s":"cp","x":5.736,"y":94.8},{"s":"cp","x":5.732,"y":95.0},{"s":"cp","x":5.728,"y":95.7},{"s":"cp","x":5.724,"y":94.4},
      {"s":"cp","x":5.720,"y":95.3},{"s":"cp","x":5.716,"y":95.9},{"s":"cp","x":5.712,"y":94.9},{"s":"cp","x":5.708,"y":95.2},{"s":"cp","x":5.704,"y":94.6},
      {"s":"cp","x":5.700,"y":95.5},{"s":"cp","x":5.696,"y":95.1},{"s":"cp","x":5.692,"y":94.7},{"s":"cp","x":5.688,"y":95.8},{"s":"cp","x":5.684,"y":95.0},
      {"s":"cp","x":5.680,"y":94.5},{"s":"cp","x":5.676,"y":95.4},{"s":"cp","x":5.672,"y":95.9},{"s":"cp","x":5.668,"y":94.8},{"s":"cp","x":5.664,"y":95.3},
      {"s":"cp","x":5.660,"y":94.9},{"s":"cp","x":5.656,"y":95.6},{"s":"cp","x":5.652,"y":95.1},{"s":"cp","x":5.648,"y":94.4},{"s":"cp","x":5.644,"y":95.5},
      {"s":"cp","x":5.640,"y":95.8},{"s":"cp","x":5.636,"y":94.7},{"s":"cp","x":5.632,"y":95.2},{"s":"cp","x":5.628,"y":95.0},{"s":"cp","x":5.624,"y":95.7},
      {"s":"cp","x":5.620,"y":94.6},{"s":"cp","x":5.616,"y":95.3},{"s":"cp","x":5.612,"y":95.9},{"s":"cp","x":5.608,"y":94.9},{"s":"cp","x":5.604,"y":95.4},
      {"s":"cp","x":5.600,"y":94.8},{"s":"cp","x":5.596,"y":95.6},{"s":"cp","x":5.592,"y":95.1},{"s":"cp","x":5.588,"y":94.5},{"s":"cp","x":5.584,"y":95.7},
      {"s":"cp","x":5.580,"y":95.2},{"s":"cp","x":5.576,"y":94.9},{"s":"cp","x":5.572,"y":95.5},{"s":"cp","x":5.568,"y":95.0},{"s":"cp","x":5.564,"y":94.6},
      {"s":"cp","x":5.560,"y":95.8},{"s":"cp","x":5.556,"y":95.3},{"s":"cp","x":5.552,"y":94.7},{"s":"cp","x":5.548,"y":95.4},{"s":"cp","x":5.544,"y":95.9},
      {"s":"cp","x":5.540,"y":95.1},{"s":"cp","x":5.536,"y":94.8},{"s":"cp","x":5.532,"y":95.6},{"s":"cp","x":5.528,"y":95.0},{"s":"cp","x":5.524,"y":94.5},
      {"s":"cp","x":5.520,"y":95.7},{"s":"cp","x":5.516,"y":95.2},{"s":"cp","x":5.512,"y":94.9},{"s":"cp","x":5.508,"y":95.5},{"s":"cp","x":5.504,"y":96.0},
      {"s":"cp","x":5.500,"y":95.1},{"s":"cp","x":5.496,"y":94.7},{"s":"cp","x":5.492,"y":95.4},{"s":"cp","x":5.488,"y":95.8},{"s":"cp","x":5.484,"y":95.0},
      {"s":"cp","x":5.480,"y":94.6},{"s":"cp","x":5.476,"y":95.3},{"s":"cp","x":5.472,"y":95.7},{"s":"cp","x":5.468,"y":94.9},{"s":"cp","x":5.464,"y":95.4},
      {"s":"cp","x":5.460,"y":95.1},{"s":"cp","x":5.456,"y":95.6},

      {"s":"cp","x":5.898,"y":94.8},{"s":"cp","x":5.894,"y":95.4},{"s":"cp","x":5.890,"y":95.9},{"s":"cp","x":5.886,"y":94.3},{"s":"cp","x":5.882,"y":95.1},
      {"s":"cp","x":5.878,"y":96.2},{"s":"cp","x":5.874,"y":94.6},{"s":"cp","x":5.870,"y":95.5},{"s":"cp","x":5.866,"y":96.0},{"s":"cp","x":5.862,"y":94.4},
      {"s":"cp","x":5.858,"y":95.8},{"s":"cp","x":5.854,"y":95.0},{"s":"cp","x":5.850,"y":94.2},{"s":"cp","x":5.846,"y":96.3},{"s":"cp","x":5.842,"y":95.6},
      {"s":"cp","x":5.838,"y":94.7},{"s":"cp","x":5.834,"y":95.3},{"s":"cp","x":5.830,"y":96.1},{"s":"cp","x":5.826,"y":94.5},{"s":"cp","x":5.822,"y":95.9},
      {"s":"cp","x":5.818,"y":95.1},{"s":"cp","x":5.814,"y":94.3},{"s":"cp","x":5.810,"y":96.2},{"s":"cp","x":5.806,"y":95.8},{"s":"cp","x":5.802,"y":94.6},
      {"s":"cp","x":5.798,"y":95.5},{"s":"cp","x":5.794,"y":96.0},{"s":"cp","x":5.790,"y":94.0},{"s":"cp","x":5.786,"y":95.2},{"s":"cp","x":5.782,"y":94.8},
      {"s":"cp","x":5.778,"y":96.1},{"s":"cp","x":5.774,"y":95.9},{"s":"cp","x":5.770,"y":94.4},{"s":"cp","x":5.766,"y":95.4},{"s":"cp","x":5.762,"y":96.2},
      {"s":"cp","x":5.758,"y":94.9},{"s":"cp","x":5.754,"y":95.6},{"s":"cp","x":5.750,"y":94.2},{"s":"cp","x":5.746,"y":96.0},{"s":"cp","x":5.742,"y":95.3},
      {"s":"cp","x":5.738,"y":94.5},{"s":"cp","x":5.734,"y":96.3},{"s":"cp","x":5.730,"y":95.8},{"s":"cp","x":5.726,"y":94.6},{"s":"cp","x":5.722,"y":95.2},
      {"s":"cp","x":5.718,"y":96.1},{"s":"cp","x":5.714,"y":94.1},{"s":"cp","x":5.710,"y":95.4},{"s":"cp","x":5.706,"y":94.7},{"s":"cp","x":5.702,"y":96.0},
      {"s":"cp","x":5.698,"y":95.9},{"s":"cp","x":5.694,"y":94.3},{"s":"cp","x":5.690,"y":95.1},{"s":"cp","x":5.686,"y":96.2},{"s":"cp","x":5.682,"y":94.8},
      {"s":"cp","x":5.678,"y":95.7},{"s":"cp","x":5.674,"y":94.4},{"s":"cp","x":5.670,"y":96.0},{"s":"cp","x":5.666,"y":95.0},{"s":"cp","x":5.662,"y":94.6},
      {"s":"cp","x":5.658,"y":96.3},{"s":"cp","x":5.654,"y":95.8},{"s":"cp","x":5.650,"y":94.2},{"s":"cp","x":5.646,"y":95.3},{"s":"cp","x":5.642,"y":96.1},
      {"s":"cp","x":5.638,"y":94.9},{"s":"cp","x":5.634,"y":95.9},{"s":"cp","x":5.630,"y":94.3},{"s":"cp","x":5.626,"y":95.4},{"s":"cp","x":5.622,"y":96.2},
      {"s":"cp","x":5.618,"y":94.5},{"s":"cp","x":5.614,"y":95.2},{"s":"cp","x":5.610,"y":96.0},{"s":"cp","x":5.606,"y":94.0},{"s":"cp","x":5.602,"y":95.6},
      {"s":"cp","x":5.598,"y":94.8},{"s":"cp","x":5.594,"y":96.3},{"s":"cp","x":5.590,"y":95.1},{"s":"cp","x":5.586,"y":94.4},{"s":"cp","x":5.582,"y":95.7},
      {"s":"cp","x":5.578,"y":96.1},{"s":"cp","x":5.574,"y":94.1},{"s":"cp","x":5.570,"y":95.4},{"s":"cp","x":5.566,"y":94.6},{"s":"cp","x":5.562,"y":96.3},
      {"s":"cp","x":5.558,"y":95.9},{"s":"cp","x":5.554,"y":94.2},{"s":"cp","x":5.550,"y":95.5},{"s":"cp","x":5.546,"y":96.0},{"s":"cp","x":5.542,"y":94.3},
      {"s":"cp","x":5.538,"y":96.2},{"s":"cp","x":5.534,"y":94.7},{"s":"cp","x":5.530,"y":95.8},{"s":"cp","x":5.526,"y":94.4},{"s":"cp","x":5.522,"y":96.1},
      {"s":"cp","x":5.518,"y":95.2},{"s":"cp","x":5.514,"y":94.5},{"s":"cp","x":5.510,"y":96.4},{"s":"cp","x":5.506,"y":95.6},{"s":"cp","x":5.502,"y":94.0},
      {"s":"cp","x":5.498,"y":95.9},{"s":"cp","x":5.494,"y":94.9},{"s":"cp","x":5.490,"y":96.2},{"s":"cp","x":5.486,"y":94.3},{"s":"cp","x":5.482,"y":95.4},
      {"s":"cp","x":5.478,"y":96.0},{"s":"cp","x":5.474,"y":94.1},{"s":"cp","x":5.470,"y":95.8},{"s":"cp","x":5.466,"y":96.3},{"s":"cp","x":5.462,"y":94.2},
      {"s":"cp","x":5.458,"y":94.8},

      {"s":"ocp","x":5.900,"y":43.3},{"s":"ocp","x":5.896,"y":42.5},{"s":"ocp","x":5.892,"y":43.8},{"s":"ocp","x":5.888,"y":43.0},{"s":"ocp","x":5.884,"y":42.7},
      {"s":"ocp","x":5.880,"y":43.6},{"s":"ocp","x":5.876,"y":42.4},{"s":"ocp","x":5.872,"y":43.1},{"s":"ocp","x":5.868,"y":43.9},{"s":"ocp","x":5.864,"y":42.8},
      {"s":"ocp","x":5.860,"y":43.4},{"s":"ocp","x":5.856,"y":42.6},{"s":"ocp","x":5.852,"y":43.2},{"s":"ocp","x":5.848,"y":44.0},{"s":"ocp","x":5.844,"y":42.9},
      {"s":"ocp","x":5.840,"y":43.5},{"s":"ocp","x":5.836,"y":42.3},{"s":"ocp","x":5.832,"y":43.1},{"s":"ocp","x":5.828,"y":43.7},{"s":"ocp","x":5.824,"y":42.8},
      {"s":"ocp","x":5.820,"y":43.3},{"s":"ocp","x":5.816,"y":43.9},{"s":"ocp","x":5.812,"y":42.6},{"s":"ocp","x":5.808,"y":43.0},{"s":"ocp","x":5.804,"y":42.0},
      {"s":"ocp","x":5.800,"y":41.8},{"s":"ocp","x":5.796,"y":43.2},{"s":"ocp","x":5.792,"y":43.6},{"s":"ocp","x":5.788,"y":42.7},{"s":"ocp","x":5.784,"y":43.4},
      {"s":"ocp","x":5.780,"y":42.9},{"s":"ocp","x":5.776,"y":43.8},{"s":"ocp","x":5.772,"y":43.1},{"s":"ocp","x":5.768,"y":42.5},{"s":"ocp","x":5.764,"y":43.5},
      {"s":"ocp","x":5.760,"y":43.0},{"s":"ocp","x":5.756,"y":42.7},{"s":"ocp","x":5.752,"y":43.9},{"s":"ocp","x":5.748,"y":43.2},{"s":"ocp","x":5.744,"y":42.6},
      {"s":"ocp","x":5.740,"y":43.4},{"s":"ocp","x":5.736,"y":42.8},{"s":"ocp","x":5.732,"y":43.6},{"s":"ocp","x":5.728,"y":43.1},{"s":"ocp","x":5.724,"y":42.4},
      {"s":"ocp","x":5.720,"y":43.3},{"s":"ocp","x":5.716,"y":43.7},{"s":"ocp","x":5.712,"y":42.9},{"s":"ocp","x":5.708,"y":43.5},{"s":"ocp","x":5.704,"y":43.0},
      {"s":"ocp","x":5.700,"y":42.6},{"s":"ocp","x":5.696,"y":43.8},{"s":"ocp","x":5.692,"y":43.2},{"s":"ocp","x":5.688,"y":42.7},{"s":"ocp","x":5.684,"y":43.4},
      {"s":"ocp","x":5.680,"y":43.1},{"s":"ocp","x":5.676,"y":42.5},{"s":"ocp","x":5.672,"y":43.6},{"s":"ocp","x":5.668,"y":43.0},{"s":"ocp","x":5.664,"y":42.8},
      {"s":"ocp","x":5.660,"y":43.5},{"s":"ocp","x":5.656,"y":43.9},{"s":"ocp","x":5.652,"y":42.7},{"s":"ocp","x":5.648,"y":43.2},{"s":"ocp","x":5.644,"y":43.0},
      {"s":"ocp","x":5.640,"y":42.4},{"s":"ocp","x":5.636,"y":43.6},{"s":"ocp","x":5.632,"y":43.3},{"s":"ocp","x":5.628,"y":42.8},{"s":"ocp","x":5.624,"y":43.7},
      {"s":"ocp","x":5.620,"y":43.1},{"s":"ocp","x":5.616,"y":42.6},{"s":"ocp","x":5.612,"y":43.4},{"s":"ocp","x":5.608,"y":43.0},{"s":"ocp","x":5.604,"y":43.8},
      {"s":"ocp","x":5.600,"y":42.9},{"s":"ocp","x":5.596,"y":43.3},{"s":"ocp","x":5.592,"y":42.5},{"s":"ocp","x":5.588,"y":43.6},{"s":"ocp","x":5.584,"y":43.1},
      {"s":"ocp","x":5.580,"y":42.7},{"s":"ocp","x":5.576,"y":43.5},{"s":"ocp","x":5.572,"y":43.0},{"s":"ocp","x":5.568,"y":43.9},{"s":"ocp","x":5.564,"y":42.8},
      {"s":"ocp","x":5.560,"y":43.2},{"s":"ocp","x":5.556,"y":43.7},{"s":"ocp","x":5.552,"y":42.6},{"s":"ocp","x":5.548,"y":43.4},{"s":"ocp","x":5.544,"y":43.1},
      {"s":"ocp","x":5.540,"y":42.9},{"s":"ocp","x":5.536,"y":43.6},{"s":"ocp","x":5.532,"y":43.3},{"s":"ocp","x":5.528,"y":42.7},{"s":"ocp","x":5.524,"y":43.8},
      {"s":"ocp","x":5.520,"y":43.0},{"s":"ocp","x":5.516,"y":42.5},{"s":"ocp","x":5.512,"y":43.4},{"s":"ocp","x":5.508,"y":43.2},{"s":"ocp","x":5.504,"y":42.8},
      {"s":"ocp","x":5.500,"y":43.6},{"s":"ocp","x":5.496,"y":43.1},{"s":"ocp","x":5.492,"y":42.9},{"s":"ocp","x":5.488,"y":43.5},{"s":"ocp","x":5.484,"y":42.6},
      {"s":"ocp","x":5.480,"y":43.3},{"s":"ocp","x":5.476,"y":43.9},{"s":"ocp","x":5.472,"y":43.0},{"s":"ocp","x":5.468,"y":42.7},{"s":"ocp","x":5.464,"y":43.4},
      {"s":"ocp","x":5.460,"y":43.2},{"s":"ocp","x":5.456,"y":42.8},

      {"s":"ocp","x":5.898,"y":43.7},{"s":"ocp","x":5.894,"y":42.6},{"s":"ocp","x":5.890,"y":43.0},{"s":"ocp","x":5.886,"y":43.6},{"s":"ocp","x":5.882,"y":42.2},
      {"s":"ocp","x":5.878,"y":44.1},{"s":"ocp","x":5.874,"y":42.5},{"s":"ocp","x":5.870,"y":43.2},{"s":"ocp","x":5.866,"y":43.9},{"s":"ocp","x":5.862,"y":41.9},
      {"s":"ocp","x":5.858,"y":43.4},{"s":"ocp","x":5.854,"y":42.7},{"s":"ocp","x":5.850,"y":44.0},{"s":"ocp","x":5.846,"y":42.3},{"s":"ocp","x":5.842,"y":43.1},
      {"s":"ocp","x":5.838,"y":43.6},{"s":"ocp","x":5.834,"y":42.1},{"s":"ocp","x":5.830,"y":44.2},{"s":"ocp","x":5.826,"y":42.8},{"s":"ocp","x":5.822,"y":43.3},
      {"s":"ocp","x":5.818,"y":42.4},{"s":"ocp","x":5.814,"y":44.0},{"s":"ocp","x":5.810,"y":43.8},{"s":"ocp","x":5.806,"y":42.2},{"s":"ocp","x":5.802,"y":41.6},
      {"s":"ocp","x":5.798,"y":42.5},{"s":"ocp","x":5.794,"y":43.5},{"s":"ocp","x":5.790,"y":42.0},{"s":"ocp","x":5.786,"y":43.9},{"s":"ocp","x":5.782,"y":42.5},
      {"s":"ocp","x":5.778,"y":44.0},{"s":"ocp","x":5.774,"y":42.3},{"s":"ocp","x":5.770,"y":43.3},{"s":"ocp","x":5.766,"y":42.9},{"s":"ocp","x":5.762,"y":44.2},
      {"s":"ocp","x":5.758,"y":42.7},{"s":"ocp","x":5.754,"y":43.7},{"s":"ocp","x":5.750,"y":42.4},{"s":"ocp","x":5.746,"y":43.8},{"s":"ocp","x":5.742,"y":42.0},
      {"s":"ocp","x":5.738,"y":44.3},{"s":"ocp","x":5.734,"y":42.7},{"s":"ocp","x":5.730,"y":43.2},{"s":"ocp","x":5.726,"y":41.9},{"s":"ocp","x":5.722,"y":44.1},
      {"s":"ocp","x":5.718,"y":42.6},{"s":"ocp","x":5.714,"y":43.7},{"s":"ocp","x":5.710,"y":43.0},{"s":"ocp","x":5.706,"y":43.4},{"s":"ocp","x":5.702,"y":42.5},
      {"s":"ocp","x":5.698,"y":42.3},{"s":"ocp","x":5.694,"y":44.2},{"s":"ocp","x":5.690,"y":43.0},{"s":"ocp","x":5.686,"y":43.8},{"s":"ocp","x":5.682,"y":41.9},
      {"s":"ocp","x":5.678,"y":43.3},{"s":"ocp","x":5.674,"y":42.8},{"s":"ocp","x":5.670,"y":44.0},{"s":"ocp","x":5.666,"y":42.4},{"s":"ocp","x":5.662,"y":43.7},
      {"s":"ocp","x":5.658,"y":43.4},{"s":"ocp","x":5.654,"y":42.1},{"s":"ocp","x":5.650,"y":44.1},{"s":"ocp","x":5.646,"y":42.5},{"s":"ocp","x":5.642,"y":43.9},
      {"s":"ocp","x":5.638,"y":43.1},{"s":"ocp","x":5.634,"y":42.2},{"s":"ocp","x":5.630,"y":44.2},{"s":"ocp","x":5.626,"y":42.6},{"s":"ocp","x":5.622,"y":43.5},
      {"s":"ocp","x":5.618,"y":42.0},{"s":"ocp","x":5.614,"y":43.8},{"s":"ocp","x":5.610,"y":43.2},{"s":"ocp","x":5.606,"y":42.3},{"s":"ocp","x":5.602,"y":44.3},
      {"s":"ocp","x":5.598,"y":42.6},{"s":"ocp","x":5.594,"y":43.4},{"s":"ocp","x":5.590,"y":42.1},{"s":"ocp","x":5.586,"y":44.1},{"s":"ocp","x":5.582,"y":43.0},
      {"s":"ocp","x":5.578,"y":42.4},{"s":"ocp","x":5.574,"y":44.2},{"s":"ocp","x":5.570,"y":42.9},{"s":"ocp","x":5.566,"y":43.5},{"s":"ocp","x":5.562,"y":42.1},
      {"s":"ocp","x":5.558,"y":43.9},{"s":"ocp","x":5.554,"y":43.2},{"s":"ocp","x":5.550,"y":42.4},{"s":"ocp","x":5.546,"y":43.7},{"s":"ocp","x":5.542,"y":42.0},
      {"s":"ocp","x":5.538,"y":43.1},{"s":"ocp","x":5.534,"y":44.0},{"s":"ocp","x":5.530,"y":42.1},{"s":"ocp","x":5.526,"y":43.5},{"s":"ocp","x":5.522,"y":42.6},
      {"s":"ocp","x":5.518,"y":44.3},{"s":"ocp","x":5.514,"y":42.4},{"s":"ocp","x":5.510,"y":43.0},{"s":"ocp","x":5.506,"y":43.8},{"s":"ocp","x":5.502,"y":42.0},
      {"s":"ocp","x":5.498,"y":43.6},{"s":"ocp","x":5.494,"y":42.7},{"s":"ocp","x":5.490,"y":44.2},{"s":"ocp","x":5.486,"y":42.2},{"s":"ocp","x":5.482,"y":43.9},
      {"s":"ocp","x":5.478,"y":43.3},{"s":"ocp","x":5.474,"y":41.9},{"s":"ocp","x":5.470,"y":43.4},{"s":"ocp","x":5.466,"y":42.3},{"s":"ocp","x":5.462,"y":44.1},
      {"s":"ocp","x":5.458,"y":43.7}
    ]
  },
  "layer": [
    {
      "data": {"name": "spectra"},
      "mark": {"type": "line", "strokeWidth": 2.6, "clip": true, "strokeJoin": "miter"},
      "encoding": {
        "x": {
          "field": "x",
          "type": "quantitative",
          "scale": {"domain": [5.9, 5.457], "nice": false, "zero": false},
          "axis": {
            "orient": "bottom",
            "values": [5.9, 5.85, 5.8, 5.75, 5.7, 5.65, 5.6, 5.55, 5.5],
            "labelExpr": "round(datum.value * 100) % 10 == 0 ? format(datum.value, '.1f') : ''",
            "tickSize": {"condition": {"test": "round(datum.value * 100) % 10 == 0", "value": 8}, "value": 4},
            "tickWidth": 2,
            "tickColor": "black",
            "domainColor": "black",
            "domainWidth": 2,
            "labelFont": "Liberation Sans",
            "labelFontWeight": "bold",
            "labelFontSize": 26,
            "labelColor": "black",
            "labelPadding": 4,
            "labelFlush": false,
            "labelOverlap": false,
            "title": "Chemical shift (ppm)",
            "titleFont": "Liberation Sans",
            "titleFontWeight": "bold",
            "titleFontSize": 26,
            "titleColor": "black",
            "titlePadding": 7
          }
        },
        "y": {
          "field": "y",
          "type": "quantitative",
          "scale": {"domain": [0, 500], "nice": false, "zero": false},
          "axis": {"labels": false, "ticks": false, "title": null, "domainColor": "black", "domainWidth": 2}
        },
        "color": {
          "field": "s",
          "type": "nominal",
          "scale": {
            "domain": ["k14", "k15", "ar", "khco3", "cp", "ocp"],
            "range": ["#1515d0", "#c0164c", "#4fa34f", "#ff8717", "#5b5bf0", "#168282"]
          },
          "legend": null
        }
      }
    },
    {
      "data": {"name": "labels"},
      "mark": {
        "type": "text",
        "align": "right",
        "baseline": "alphabetic",
        "font": "Liberation Sans",
        "fontWeight": "bold",
        "fontSize": 22,
        "color": "black"
      },
      "encoding": {
        "x": {
          "field": "x",
          "type": "quantitative",
          "axis": {"orient": "top", "labels": false, "ticks": false, "title": null, "domainColor": "black", "domainWidth": 2}
        },
        "y": {"field": "y", "type": "quantitative"},
        "text": {"field": "t"}
      }
    }
  ],
  "resolve": {"axis": {"x": "independent"}}
}
